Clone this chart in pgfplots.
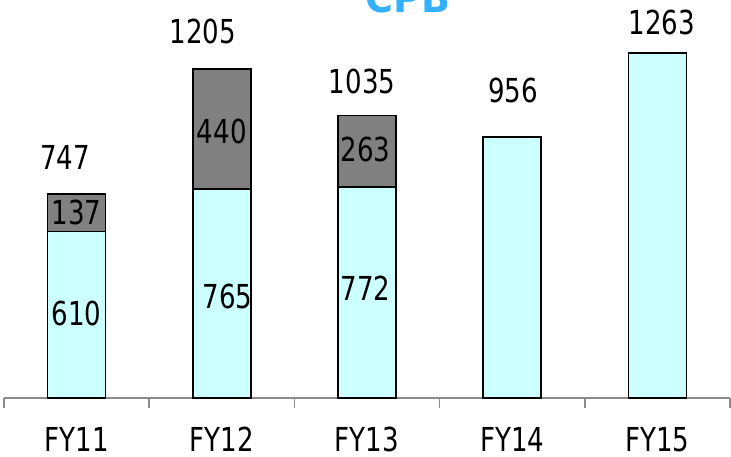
\documentclass[border=0pt]{standalone}
\usepackage{fontspec}
\setmainfont{DejaVu Sans}[FakeStretch=0.79]
\newfontfamily\titlefont{DejaVu Sans}[FakeStretch=0.95]
\usepackage{pgfplots}
\pgfplotsset{compat=1.18}

\definecolor{barcyan}{HTML}{CCFFFF}
\definecolor{bargray}{HTML}{808080}
\definecolor{axgray}{HTML}{8C8C8C}
\definecolor{titleblue}{HTML}{33B0FF}

% totals (gray) and base part (cyan); gray top = total - base
\pgfplotstableread{
x total base
0 747 610
1 1205 765
2 1035 772
3 956 956
4 1263 1263
}\cpbdata

\begin{document}
\begin{tikzpicture}
\fontsize{33bp}{36bp}\selectfont
\begin{axis}[
    name=ax,
    scale only axis,
    width=726bp, height=398bp,
    xmin=-0.5, xmax=4.5,
    ymin=0, ymax=1457,
    axis x line=bottom,
    axis y line=none,
    axis line style={-, axgray, line width=1.5bp},
    xtick={0,1,2,3,4},
    xticklabels={FY11,FY12,FY13,FY14,FY15},
    major tick length=0pt,
    minor xtick={-0.5,0.5,1.5,2.5,3.5,4.5},
    minor tick length=10bp,
    tick align=outside,
    minor tick style={axgray, line width=1.5bp},
    xticklabel style={anchor=north, inner sep=0pt, yshift=-29bp, font=\fontsize{33bp}{36bp}\selectfont},
    ytick=\empty,
    clip=false,
    every node/.style={font=\fontsize{33bp}{36bp}\selectfont, inner sep=0pt},
]
\addplot[ybar, bar width=58bp, bar shift=0pt, fill=bargray, draw=black, line width=1.5bp]
    table[x=x, y=total] {\cpbdata};
\addplot[ybar, bar width=58bp, bar shift=0pt, fill=barcyan, draw=black, line width=1.5bp]
    table[x=x, y=base] {\cpbdata};

% totals above bars
\node at (axis cs:-0.08,882) {747};
\node at (axis cs:0.87,1343) {1205};
\node at (axis cs:1.966,1157) {1035};
\node at (axis cs:3.005,1127) {956};
\node at (axis cs:4.03,1376) {1263};
% segment values
\node at (axis cs:0,678) {137};
\node at (axis cs:0,311) {610};
\node at (axis cs:1.0,977) {440};
\node at (axis cs:1.04,370) {765};
\node at (axis cs:1.99,908) {263};
\node at (axis cs:1.99,403) {772};

\node[anchor=base, text=titleblue, font=\fontsize{40bp}{44bp}\titlefont\bfseries]
    at ([yshift=-13bp]rel axis cs:0.556,1) {CPB};
\end{axis}
\pgfresetboundingbox
\path[use as bounding box] ([shift={(-4bp,-59bp)}]ax.south west) rectangle ([shift={(1bp,0bp)}]ax.north east);
\end{tikzpicture}
\end{document}
